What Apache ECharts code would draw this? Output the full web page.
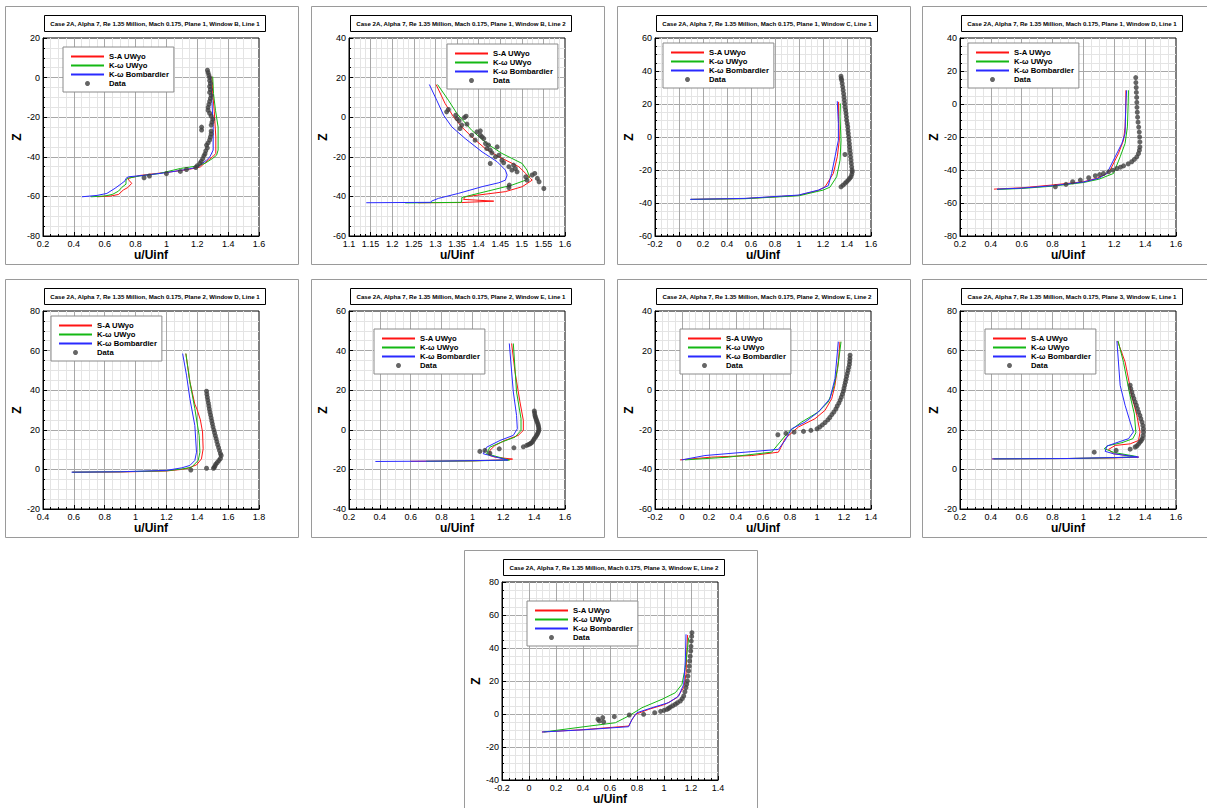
<!DOCTYPE html>
<html>
<head>
<meta charset="utf-8">
<title>Case 2A velocity profiles</title>
<script src="https://cdn.jsdelivr.net/npm/echarts@6/dist/echarts.min.js"></script>
<style>
  html, body { margin: 0; padding: 0; background: #fff; }
  #chart { width: 1207px; height: 808px; }
</style>
</head>
<body>
<div id="chart"></div>
<script>
// series names and panel titles
const names = ['S-A UWyo', 'K-ω UWyo', 'K-ω Bombardier', 'Data'];
const titles = [
  'Case 2A, Alpha 7, Re 1.35 Million, Mach 0.175, Plane 1, Window B, Line 1',
  'Case 2A, Alpha 7, Re 1.35 Million, Mach 0.175, Plane 1, Window B, Line 2',
  'Case 2A, Alpha 7, Re 1.35 Million, Mach 0.175, Plane 1, Window C, Line 1',
  'Case 2A, Alpha 7, Re 1.35 Million, Mach 0.175, Plane 1, Window D, Line 1',
  'Case 2A, Alpha 7, Re 1.35 Million, Mach 0.175, Plane 2, Window D, Line 1',
  'Case 2A, Alpha 7, Re 1.35 Million, Mach 0.175, Plane 2, Window E, Line 1',
  'Case 2A, Alpha 7, Re 1.35 Million, Mach 0.175, Plane 2, Window E, Line 2',
  'Case 2A, Alpha 7, Re 1.35 Million, Mach 0.175, Plane 3, Window E, Line 1',
  'Case 2A, Alpha 7, Re 1.35 Million, Mach 0.175, Plane 3, Window E, Line 2'
];
// axis ranges: [min, max, interval]
const xRanges = [[0.2, 1.6, 0.2], [1.1, 1.6, 0.05], [-0.2, 1.6, 0.2], [0.2, 1.6, 0.2],
                 [0.4, 1.8, 0.2], [0.2, 1.6, 0.2], [-0.2, 1.4, 0.2], [0.2, 1.6, 0.2], [-0.2, 1.4, 0.2]];
const zRanges = [[-80, 20, 20], [-60, 40, 20], [-60, 60, 20], [-80, 40, 20],
                 [-20, 80, 20], [-40, 60, 20], [-60, 40, 20], [-20, 80, 20], [-40, 80, 20]];

// ---- Plane 1, Window B, Line 1 ----
const p1_sa = [[0.55,-60.2],[0.64,-59.8],[0.69,-59.0],[0.72,-56.8],[0.75,-55.5],[0.775,-53.4],[0.76,-52.1],[0.75,-50.9],[0.83,-49.4],[0.95,-48.3],[1.05,-47.4],[1.15,-46.3],[1.22,-45.1],[1.27,-41.7],[1.30,-40],[1.32,-38.3],[1.32,-30],[1.31,-17],[1.30,-8],[1.295,0.5]];
const p1_kw = [[0.51,-60.2],[0.60,-59.8],[0.65,-59.0],[0.69,-57.3],[0.71,-55.5],[0.738,-53.8],[0.738,-52.1],[0.747,-50.9],[0.83,-49.6],[0.95,-48.5],[1.09,-45.9],[1.195,-44.7],[1.25,-43.3],[1.30,-40.8],[1.325,-39.2],[1.335,-36.6],[1.335,-30],[1.335,-25],[1.318,-16.5],[1.305,-8],[1.30,0.5]];
const p1_kwb = [[0.452,-60.2],[0.55,-59.5],[0.614,-58.5],[0.667,-55.9],[0.711,-53.4],[0.732,-52.1],[0.738,-50.9],[0.753,-50.1],[0.85,-49.4],[1.0,-48.0],[1.12,-46.5],[1.2,-45.3],[1.26,-41.7],[1.282,-40],[1.303,-36.6],[1.303,-24.9],[1.295,-12],[1.292,-8],[1.285,0.5]];
const p1_data = [[1.266,3.7],[1.27,2.5],[1.275,1.2],[1.28,0],[1.28,-1.5],[1.285,-3],[1.28,-4.5],[1.285,-6],[1.28,-7.5],[1.29,-9],[1.285,-10.5],[1.28,-12],[1.275,-13.5],[1.27,-15],[1.27,-16.5],[1.28,-18],[1.29,-19.5],[1.30,-21],[1.295,-22.5],[1.29,-24],[1.228,-25],[1.228,-26.5],[1.29,-27],[1.29,-28.5],[1.285,-30],[1.28,-31.5],[1.27,-33],[1.26,-34.1],[1.265,-35.5],[1.255,-37],[1.25,-38.5],[1.243,-39.5],[1.235,-41],[1.225,-42.3],[1.217,-43.3],[1.2,-44.5],[1.19,-45.4],[1.13,-46.4],[1.09,-47.4],[1.0,-48.5],[0.89,-49.7],[0.855,-50.6]];

// ---- Plane 1, Window B, Line 2 ----
const p2_sa = [[1.26,-43.2],[1.36,-43.1],[1.435,-42.4],[1.365,-41.5],[1.369,-40.2],[1.40,-39.3],[1.462,-37.6],[1.501,-35.1],[1.524,-31.8],[1.52,-30.9],[1.509,-28.4],[1.493,-25],[1.447,-20],[1.415,-15.8],[1.384,-9.9],[1.361,-4.9],[1.342,0.2],[1.3225,6.9],[1.3016,16.5]];
const p2_kw = [[1.23,-43.3],[1.36,-43],[1.361,-41.8],[1.361,-40.6],[1.384,-39.3],[1.431,-36.8],[1.477,-34.3],[1.509,-31.8],[1.518,-30.1],[1.512,-26.7],[1.501,-23.4],[1.454,-18.3],[1.419,-13.3],[1.384,-6.6],[1.35,1.8],[1.33,8.6],[1.305,16.5]];
const p2_kwb = [[1.14,-43.2],[1.29,-43],[1.291,-42.4],[1.307,-41],[1.353,-38.5],[1.408,-35.1],[1.447,-33.1],[1.462,-31.8],[1.466,-29.2],[1.462,-26.7],[1.443,-22.5],[1.408,-17.5],[1.369,-10.8],[1.338,-4.9],[1.319,1.0],[1.303,8.6],[1.286,16.5]];
const p2_data = [[1.326,2.7],[1.33,3.9],[1.347,1.0],[1.35,-0.7],[1.355,-1.8],[1.357,-5.7],[1.361,-4.0],[1.367,-0.2],[1.371,0.5],[1.373,-3.5],[1.384,-9.1],[1.392,-11.6],[1.396,-7.4],[1.404,-6.9],[1.404,-9.1],[1.408,-9.9],[1.412,-10.8],[1.416,-13.3],[1.419,-15.8],[1.423,-14.1],[1.427,-16.6],[1.431,-18],[1.443,-15],[1.439,-20],[1.447,-19.2],[1.454,-21.7],[1.458,-23],[1.427,-23.4],[1.47,-25],[1.477,-26.7],[1.481,-24.2],[1.485,-25.9],[1.489,-27.6],[1.509,-30.1],[1.512,-31.8],[1.524,-29.2],[1.53,-28.4],[1.536,-30.9],[1.54,-32.6],[1.551,-36],[1.471,-34.3],[1.47,-35.5]];

// ---- Plane 1, Window C, Line 1 ----
const p3_sa = [[0.10,-37.8],[0.55,-37.3],[0.994,-35.4],[1.161,-32.4],[1.217,-30.2],[1.286,-22.1],[1.319,-12],[1.336,-1.9],[1.33,12.2],[1.33,21.3]];
const p3_kw = [[0.10,-37.8],[0.55,-37.4],[1.0,-35.6],[1.2,-32.2],[1.258,-30.4],[1.314,-24.1],[1.342,-14],[1.35,-1.9],[1.342,12.2],[1.345,20.3]];
const p3_kwb = [[0.092,-37.8],[0.55,-37.2],[0.994,-35.2],[1.161,-32.2],[1.244,-29.5],[1.272,-22.1],[1.30,-12],[1.328,-1.9],[1.328,8.2],[1.319,21.7]];
const p3_data = [[1.35,36.8],[1.352,35.5],[1.356,34.4],[1.36,32.4],[1.364,30.4],[1.368,28.4],[1.372,26.3],[1.375,24.3],[1.378,22.3],[1.38,20.3],[1.383,18.2],[1.388,16.2],[1.392,14.2],[1.395,12.2],[1.397,10.2],[1.402,8.2],[1.406,6.2],[1.408,4.1],[1.411,2.1],[1.414,0.1],[1.417,-1.9],[1.42,-4],[1.422,-6],[1.425,-8],[1.428,-10],[1.43,-12],[1.433,-14],[1.436,-16],[1.439,-18.1],[1.442,-20],[1.444,-21.1],[1.44,-22.6],[1.433,-24.1],[1.422,-25.1],[1.411,-26.1],[1.397,-27.1],[1.383,-28.1],[1.367,-29.2],[1.35,-30.2],[1.383,-10.6]];

// ---- Plane 1, Window D, Line 1 ----
const p4_sa = [[0.42,-51.6],[0.6,-50.8],[0.786,-49.2],[1.001,-47.1],[1.087,-45.1],[1.152,-42.1],[1.173,-40.1],[1.227,-30],[1.26,-21.9],[1.27,-13.9],[1.275,0],[1.275,8.3]];
const p4_kw = [[0.44,-51.8],[0.6,-51.2],[0.8,-49.8],[1.0,-47.6],[1.1,-45.6],[1.195,-42.1],[1.238,-32],[1.27,-23.9],[1.285,-13.9],[1.29,0],[1.292,8.3]];
const p4_kwb = [[0.44,-51.6],[0.6,-51.0],[0.8,-49.5],[1.0,-47.3],[1.1,-45.0],[1.152,-42.1],[1.195,-34],[1.249,-23.9],[1.27,-17.9],[1.275,0],[1.28,8.3]];
const p4_data = [[1.339,16],[1.34,13],[1.342,10],[1.343,7],[1.345,4],[1.346,1],[1.347,-2],[1.349,-5],[1.351,-8],[1.354,-11],[1.358,-14],[1.362,-17],[1.364,-20],[1.366,-23],[1.366,-26],[1.363,-28],[1.357,-30],[1.346,-32],[1.33,-33.6],[1.313,-35],[1.29,-36.3],[1.26,-37.5],[1.24,-38.3],[1.217,-39.1],[1.19,-40.1],[1.163,-41.1],[1.13,-42.1],[1.105,-42.8],[1.077,-43.5],[1.034,-44.7],[0.98,-46.1],[0.93,-47.1],[0.887,-48.7],[0.818,-50.2]];

// ---- Plane 2, Window D, Line 1 ----
const p5_sa = [[0.59,-1.4],[0.9,-1.3],[1.2,-0.8],[1.30,0.0],[1.341,0.6],[1.395,2.3],[1.427,5.3],[1.438,10.4],[1.434,18.9],[1.42,25],[1.40,30],[1.384,33],[1.352,44.2],[1.326,58.5]];
const p5_kw = [[0.59,-1.4],[0.9,-1.2],[1.2,-0.7],[1.30,0.2],[1.363,1.1],[1.406,4.5],[1.417,8.7],[1.412,17.2],[1.384,30.7],[1.352,44.2],[1.326,58.5]];
const p5_kwb = [[0.585,-1.4],[0.9,-1.2],[1.2,-0.5],[1.30,0.8],[1.352,2],[1.384,4.5],[1.395,8.7],[1.384,22.2],[1.352,35.7],[1.33,47.6],[1.305,58.5]];
const p5_data = [[1.46,39.5],[1.462,38],[1.465,36.5],[1.468,35],[1.472,33.5],[1.475,32],[1.478,30.5],[1.482,29],[1.486,27.5],[1.49,26],[1.494,24.5],[1.498,23],[1.502,21.5],[1.507,20],[1.512,18.5],[1.517,17],[1.522,15.5],[1.527,14],[1.532,12.5],[1.538,11],[1.544,9.5],[1.55,8],[1.555,7],[1.55,5.5],[1.54,4.5],[1.53,3.5],[1.52,2.7],[1.515,1.8],[1.51,1],[1.505,0.6],[1.46,0.6],[1.358,-0.3]];

// ---- Plane 2, Window E, Line 1 ----
const p6_sa = [[0.6,-15.9],[1.0,-15.7],[1.2,-15.2],[1.26,-14.8],[1.146,-13.8],[1.113,-13],[1.113,-10.4],[1.146,-7.9],[1.21,-5.4],[1.297,-2.8],[1.33,-0.3],[1.33,4.8],[1.308,14.1],[1.276,29.3],[1.254,43.6]];
const p6_kw = [[0.7,-15.9],[1.0,-15.7],[1.24,-15.3],[1.092,-12.1],[1.113,-8.8],[1.189,-6.2],[1.276,-3.7],[1.315,-0.3],[1.315,5.6],[1.286,19.1],[1.265,43.6]];
const p6_kwb = [[0.371,-16],[0.8,-15.8],[1.23,-15.3],[1.07,-12.1],[1.092,-8.8],[1.178,-5.4],[1.265,-2.8],[1.291,0.5],[1.286,7.3],[1.265,19.1],[1.239,43.6]];
const p6_data = [[1.401,9.5],[1.403,8.5],[1.405,7.3],[1.408,6.5],[1.412,5.6],[1.416,4.7],[1.42,3.9],[1.424,3],[1.427,2.2],[1.429,1.3],[1.431,0.5],[1.43,-0.3],[1.427,-1.1],[1.422,-2],[1.416,-2.8],[1.41,-3.6],[1.401,-4.5],[1.395,-5.3],[1.388,-6.2],[1.38,-6.7],[1.373,-7.1],[1.362,-7.5],[1.351,-7.9],[1.33,-8.6],[1.269,-9.1],[1.174,-9.6],[1.113,-11.8],[1.081,-10.4],[1.048,-10.9]];

// ---- Plane 2, Window E, Line 2 ----
const p7_sa = [[-0.015,-35.2],[0.22,-33.8],[0.516,-33],[0.714,-31.3],[0.733,-28.8],[0.763,-24.5],[0.862,-18.6],[0.985,-14.4],[1.059,-10.2],[1.109,-4.3],[1.133,2.5],[1.158,14.3],[1.17,24.5]];
const p7_kw = [[0.022,-35.2],[0.343,-33.8],[0.664,-31.3],[0.726,-26.2],[0.788,-21.1],[0.886,-16.1],[1.01,-11],[1.084,-5.9],[1.121,0.8],[1.153,10.9],[1.178,24.5]];
const p7_kwb = [[-0.002,-35.2],[0.17,-33],[0.467,-31.3],[0.714,-29.9],[0.763,-25.4],[0.812,-19.5],[0.911,-16.1],[1.01,-11],[1.096,-4.3],[1.133,5.9],[1.158,24.5]];
const p7_data = [[0.71,-22.5],[0.77,-21.8],[0.83,-21.2],[0.90,-20.8],[0.955,-20.3],[1.0,-19.5],[1.02,-18.6],[1.04,-17.5],[1.06,-16.3],[1.08,-15],[1.095,-13.8],[1.11,-12.3],[1.125,-11],[1.14,-9.5],[1.15,-8],[1.162,-6.5],[1.172,-5],[1.18,-3.5],[1.188,-2],[1.195,-0.5],[1.2,1],[1.205,2.5],[1.21,4],[1.215,5.5],[1.22,7],[1.225,8.5],[1.23,10],[1.235,11.5],[1.24,13],[1.242,14.5],[1.244,16],[1.245,17.7]];

// ---- Plane 3, Window E, Line 1 ----
const p8_sa = [[0.409,5.3],[0.9,5.5],[1.2,5.8],[1.357,6.2],[1.195,7.9],[1.163,10.1],[1.206,12.1],[1.303,12.9],[1.357,14.6],[1.367,18.9],[1.346,27.3],[1.313,37.4],[1.27,54.3],[1.221,64.8]];
const p8_kw = [[0.42,5.3],[0.9,5.5],[1.2,5.9],[1.346,6.5],[1.2,8.5],[1.135,10.5],[1.16,12],[1.25,13.5],[1.32,15.5],[1.34,18.5],[1.33,28],[1.30,38],[1.26,54],[1.225,64.8]];
const p8_kwb = [[0.409,5.3],[0.9,5.5],[1.2,6.0],[1.357,6.2],[1.195,7.9],[1.141,9.1],[1.152,11.8],[1.238,14.1],[1.292,15.5],[1.324,18.9],[1.303,23.9],[1.27,32.4],[1.238,42.5],[1.217,64.8]];
const p8_data = [[1.07,8.7],[1.212,9.6],[1.303,10.2],[1.335,11.3],[1.346,11.8],[1.357,12.8],[1.367,13.8],[1.375,14.6],[1.382,15.5],[1.386,17],[1.389,18.9],[1.388,20.5],[1.385,22.2],[1.38,23.9],[1.372,25.6],[1.366,27.3],[1.357,29],[1.35,30.7],[1.343,32.4],[1.335,34.1],[1.327,35.8],[1.32,37.4],[1.314,39.1],[1.307,40.8],[1.303,42.5]];

// ---- Plane 3, Window E, Line 2 ----
const p9_sa = [[0.096,-10.9],[0.4,-9.5],[0.738,-7.3],[0.758,-4.2],[0.788,-0.2],[0.886,2.8],[1.01,5.9],[1.096,9.9],[1.146,16],[1.163,24],[1.17,40.2],[1.175,47.9]];
const p9_kw = [[0.109,-10.9],[0.4,-7.8],[0.64,-5.3],[0.738,-1.2],[0.837,3.8],[0.985,8.9],[1.084,12.9],[1.133,18],[1.158,28.1],[1.183,46.3]];
const p9_kwb = [[0.096,-10.9],[0.4,-9.6],[0.738,-7.7],[0.763,-3.2],[0.8,0.8],[0.911,3.8],[1.035,6.9],[1.109,10.9],[1.146,18],[1.158,32.1],[1.163,48.3]];
const p9_data = [[0.511,-3.2],[0.521,-4.2],[0.546,-2.2],[0.553,-4.8],[0.632,-1.6],[0.743,-0.6],[0.849,-0.2],[0.931,0.8],[0.975,1.6],[1.0,2.2],[1.022,2.8],[1.035,3.5],[1.047,4.2],[1.065,5],[1.084,5.9],[1.1,6.8],[1.121,7.9],[1.135,9.3],[1.146,10.9],[1.155,13.5],[1.163,16],[1.168,18],[1.173,20],[1.178,23],[1.183,26.1],[1.187,29],[1.19,32.1],[1.194,35],[1.198,38.2],[1.2,41],[1.202,44.2],[1.205,47],[1.207,49.3]];

const panelSeries = [
  [p1_sa, p1_kw, p1_kwb, p1_data], [p2_sa, p2_kw, p2_kwb, p2_data],
  [p3_sa, p3_kw, p3_kwb, p3_data], [p4_sa, p4_kw, p4_kwb, p4_data],
  [p5_sa, p5_kw, p5_kwb, p5_data], [p6_sa, p6_kw, p6_kwb, p6_data],
  [p7_sa, p7_kw, p7_kwb, p7_data], [p8_sa, p8_kw, p8_kwb, p8_data],
  [p9_sa, p9_kw, p9_kwb, p9_data]
];

// layout: plot area top-left corner and legend offset inside the plot
const plotPos = [[43, 38], [349, 38], [655, 38], [960, 38], [43, 311], [349, 311], [655, 311], [960, 311], [502, 582]];
const legendOff = [[20, 9], [98, 6], [8, 5], [8, 5], [8, 5], [25, 18], [25, 18], [25, 18], [25, 19]];
const PW = 216, PH = 198;

const colors = ['#ff1414', '#14b814', '#2a2aff', '#404040'];
const font = "'Liberation Sans', Arial, Helvetica, sans-serif";

const grid = [], xAxis = [], yAxis = [], series = [], title = [], legend = [], graphic = [];

plotPos.forEach(function (p, i) {
  grid.push({ left: p[0], top: p[1], width: PW, height: PH, show: true,
    borderColor: '#000', borderWidth: 1, backgroundColor: 'transparent' });

  const common = {
    gridIndex: i, type: 'value', nameLocation: 'middle',
    nameTextStyle: { fontFamily: font, fontWeight: 'bold', fontSize: 12, color: '#000' },
    axisLine: { onZero: false, lineStyle: { color: '#000', width: 1 } },
    axisTick: { inside: true, length: 4, lineStyle: { color: '#000' } },
    minorTick: { show: true, splitNumber: 4, length: 2, lineStyle: { color: '#000' } },
    axisLabel: { fontFamily: font, fontSize: 9, color: '#000', margin: 3 },
    splitLine: { show: true, showMinLine: false, showMaxLine: false, lineStyle: { color: '#a8a8a8', width: 1 } },
    minorSplitLine: { show: true, lineStyle: { color: '#e4e4e4', width: 1 } }
  };
  xAxis.push(Object.assign({}, common, {
    position: 'bottom', name: 'u/Uinf', nameGap: 6,
    min: xRanges[i][0], max: xRanges[i][1], interval: xRanges[i][2]
  }));
  yAxis.push(Object.assign({}, common, {
    position: 'left', name: 'Z', nameGap: 15,
    min: zRanges[i][0], max: zRanges[i][1], interval: zRanges[i][2]
  }));

  panelSeries[i].forEach(function (d, k) {
    if (k < 3) {
      series.push({ name: names[k], type: 'line', xAxisIndex: i, yAxisIndex: i, data: d,
        symbol: 'none', color: colors[k], lineStyle: { width: 1, color: colors[k] },
        z: 2 + k, silent: true });
    } else {
      series.push({ name: names[k], type: 'scatter', xAxisIndex: i, yAxisIndex: i, data: d,
        symbol: 'circle', symbolSize: 5, itemStyle: { color: colors[k] }, z: 6, silent: true });
    }
  });

  title.push({
    text: titles[i], left: p[0] + 106, top: p[1] - 23, textAlign: 'center',
    borderColor: '#000', borderWidth: 1, padding: [5, 6], backgroundColor: '#fff',
    textStyle: { fontFamily: font, fontSize: 6.1, fontWeight: 'bold', color: '#000', lineHeight: 7 }
  });

  legend.push({
    left: p[0] + legendOff[i][0], top: p[1] + legendOff[i][1], orient: 'vertical',
    itemWidth: 33, itemHeight: 5, itemGap: 0, padding: [5, 5, 4, 7],
    borderColor: '#8a8a8a', borderWidth: 1, borderRadius: 0, backgroundColor: '#fff',
    selectedMode: false,
    lineStyle: { width: 2 },
    textStyle: { fontFamily: font, fontSize: 7.7, fontWeight: 'bold', color: '#000', lineHeight: 9 },
    data: names.map(function (n, k) {
      return k < 3 ? { name: n, itemStyle: { opacity: 0 } } : { name: n, icon: 'circle' };
    })
  });

  graphic.push({ type: 'rect', silent: true, z: -10,
    shape: { x: p[0] - 37.5, y: p[1] - 31.5, width: 293, height: 258 },
    style: { fill: 'none', stroke: '#9a9a9a', lineWidth: 1 } });
});

const chart = echarts.init(document.getElementById('chart'), null, { renderer: 'svg' });
chart.setOption({
  animation: false,
  backgroundColor: '#fff',
  grid: grid, xAxis: xAxis, yAxis: yAxis,
  title: title, legend: legend, graphic: graphic,
  series: series
});
</script>
</body>
</html>
